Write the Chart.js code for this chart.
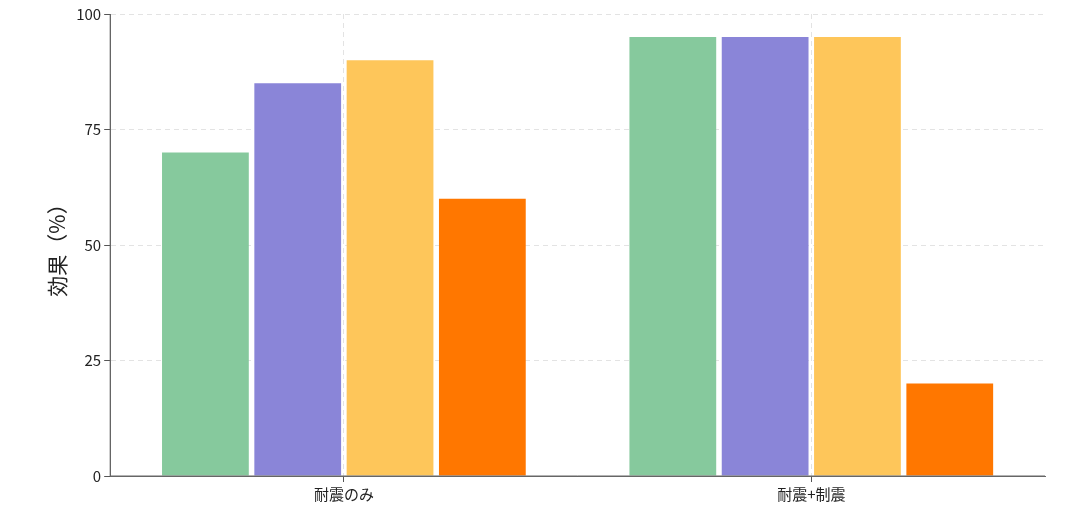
<!DOCTYPE html>
<html><head><meta charset="utf-8">
<script src="https://cdn.jsdelivr.net/npm/chart.js@4/dist/chart.umd.min.js"></script>
<style>html,body{margin:0;background:#fff}#w{width:1067px;height:515px}</style>
</head><body><div id="w"><canvas id="c"></canvas></div>
<script>
const categories=["耐震のみ","耐震+制震"];
const s1=[70,95],s2=[85,95],s3=[90,95],s4=[60,20];
const names=["A","B","C","D"];
const colors=["#86c99d","#8a85d8","#fec65a","#ff7700"];
const font="'Noto Sans CJK JP','Noto Sans',sans-serif";
new Chart(document.getElementById('c'),{type:'bar',
data:{labels:categories,datasets:[s1,s2,s3,s4].map((d,i)=>({label:names[i],data:d,backgroundColor:colors[i],barPercentage:0.94,categoryPercentage:0.79}))},
options:{responsive:true,maintainAspectRatio:false,animation:false,
layout:{padding:{top:14,right:22,left:40,bottom:9}},
plugins:{legend:{display:false},tooltip:{enabled:false}},
scales:{
x:{grid:{offset:false,color:'#e3e3e3',tickColor:'#555',drawTicks:true,tickLength:6},border:{color:'#666',dash:[5,4]},ticks:{color:'#222',font:{family:font,size:15}}},
y:{min:0,max:100,ticks:{stepSize:25,color:'#222',font:{family:font,size:15}},grid:{color:'#e3e3e3',tickColor:'#555',tickLength:6},border:{color:'#666',dash:[5,4]},title:{display:true,text:'効果（%）',color:'#222',font:{family:font,size:21}}}
}},
plugins:[{id:'axes',afterDraw(ch){const c=ch.ctx,a=ch.chartArea;c.save();c.strokeStyle='#666';c.lineWidth=1;c.beginPath();c.moveTo(a.left,a.top);c.lineTo(a.left,a.bottom);c.lineTo(a.right,a.bottom);c.stroke();c.restore();}}]
});
</script></body></html>
